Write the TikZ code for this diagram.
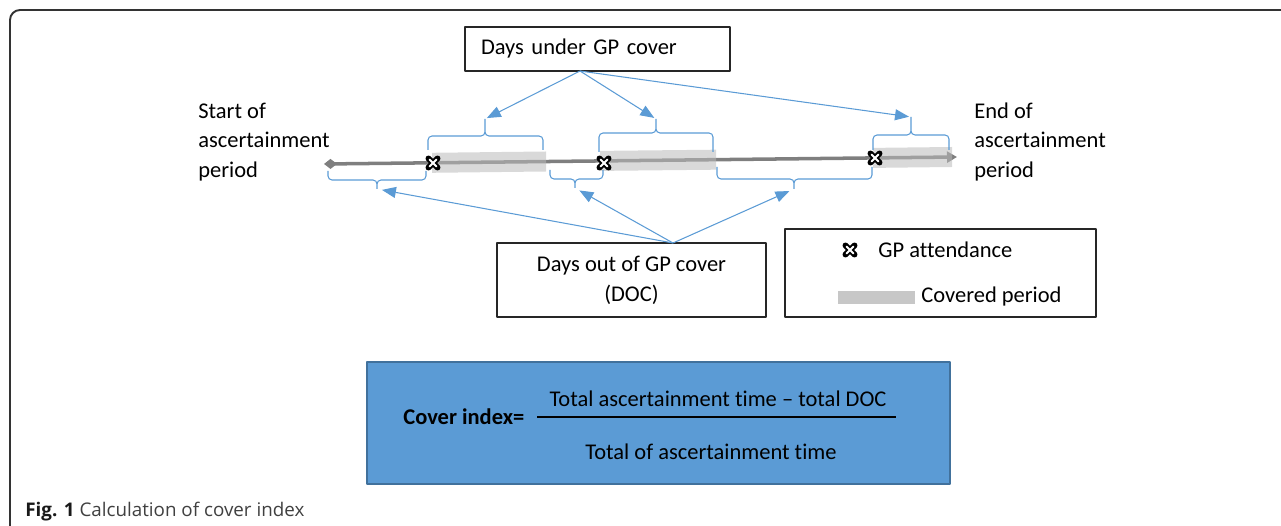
\documentclass[tikz,border=0pt]{standalone}
\usepackage{fontspec}
\setmainfont{Carlito}[Ligatures=NoCommon]
\newfontfamily\capfont{Open Sans}
\usetikzlibrary{arrows.meta}
\definecolor{officeblue}{HTML}{5B9BD5}
\definecolor{officeborder}{HTML}{41719C}
\definecolor{bandgray}{RGB}{186,186,186}
\definecolor{linegray}{HTML}{7F7F7F}
\tikzset{
	box/.style={draw=black!85, line width=0.7pt, inner sep=0pt},
	link/.style={officeblue, line width=0.6pt, -{Triangle[length=0.28cm,width=0.22cm]}},
	curly/.style={officeblue, line width=0.6pt, rounded corners=0.08cm},
	band/.style={fill=bandgray, fill opacity=0.55},
	gpcross/.style={black, line width=3.4pt, line cap=round},
	timeline/.style={linegray, line width=2pt, {Diamond[length=0.26cm,width=0.2cm]}-{Triangle[length=0.2cm,width=0.22cm]}}
}
\begin{document}
\begin{tikzpicture}[x=0.02cm, y=-0.02cm, font=\fontsize{12.8}{17}\selectfont, line join=round]
			\useasboundingbox (0,0) rectangle (1281,526);
			\draw[line width=1.1pt, black!80, rounded corners=0.2cm] (10,530) -- (10,10) -- (1290,10);
			%\draw[color=gray!50,dashed] (0,0) grid[step=50] (1281,526);
			% time line
			\coordinate (tstart) at (324,164);
			\coordinate (tend) at (957,157);
			\draw[timeline] (tstart) -- (tend);
			\foreach \a/\b/\ya/\yb in {432/546/162.8/161.5, 600/716/160.9/159.7, 873/952/157.9/157.0}
			\fill[band] (\a,\ya-10) -- (\b,\yb-10) -- (\b,\yb+10) -- (\a,\ya+10) -- cycle;
			\foreach \x/\y in {433/163, 604/163, 875/158, 850/250}{
				\draw[gpcross] (\x-4.5,\y-4.5) -- (\x+4.5,\y+4.5) (\x-4.5,\y+4.5) -- (\x+4.5,\y-4.5);
				\draw[gpcross, white, line width=1.1pt] (\x-3.5,\y-3.5) -- (\x+3.5,\y+3.5) (\x-3.5,\y+3.5) -- (\x+3.5,\y-3.5);
			}
			% braces
			\foreach \a/\b/\m/\e/\h/\t [count=\i] in {428/543/485/150/136/119, 599/713/656/152/133/119, 873/949/911/150/135/117}{
				\draw[curly] (\a,\e) -- (\a,\h) -- (\m,\h) -- (\m,\t) (\b,\e) -- (\b,\h) -- (\m,\h) -- (\m,\t);
				\coordinate (up\i) at (\m,\t);
			}
			\foreach \a/\b/\m/\e/\h/\t [count=\i] in {328/426/377/171/180/189, 550/603/575/170/179/188, 717/872/794/167/179/189}{
				\draw[curly] (\a,\e) -- (\a,\h) -- (\m,\h) -- (\m,\t) (\b,\e) -- (\b,\h) -- (\m,\h) -- (\m,\t);
				\coordinate (down\i) at (\m,\t);
			}
			% labels and boxes
			\node[anchor=west, align=left, inner sep=0] (startlbl) at (198,142) {Start of\\ascertainment\\period};
			\node[anchor=west, align=left, inner sep=0] (endlbl) at (974,142) {End of\\ascertainment\\period};
			\node[box, minimum width=5.3cm, minimum height=0.88cm, text width=4.66cm, inner xsep=0.32cm, align=left] (under) at (597.5,49) {Days under GP cover};
			\node[box, minimum width=5.38cm, minimum height=1.48cm, align=center] (doc) at (631.5,280) {Days out of GP cover\\(DOC)};
			\coordinate (undersrc) at (580,71);
			\coordinate (docsrc) at (673,243);
			\foreach \i in {1,2,3}
			\draw[link, shorten >=0.04cm] (undersrc) -- (up\i);
			\foreach \i in {1,2,3}
			\draw[link, shorten >=0.1cm] (docsrc) -- (down\i);
			% legend
			\node[box, minimum width=6.22cm, minimum height=1.76cm] (legend) at (940.5,273) {};
			\node[anchor=west, inner sep=0] (attlbl) at (878,250) {GP attendance};
			\fill[black!22] (838,291) rectangle (915,304);
			\node[anchor=west, inner sep=0] (covlbl) at (921,297) {Covered period};
			% cover index
			\node[draw=officeborder, fill=officeblue, line width=1pt, minimum width=11.66cm, minimum height=2.44cm] (formula) at (658.5,423) {};
			\node[anchor=west, inner sep=0, font=\fontsize{12.8}{17}\selectfont\bfseries] (cilbl) at (403,417) {Cover index=};
			\coordinate (fracl) at (537,417);
			\coordinate (fracr) at (896,417);
			\draw[line width=1.1pt] (fracl) -- (fracr);
			\node[inner sep=0] (num) at (718,399) {Total ascertainment time – total DOC};
			\node[inner sep=0] (den) at (711,452) {Total of ascertainment time};
			\node[anchor=base west, inner sep=0, font=\capfont\fontsize{10.7}{13}\selectfont, text=black!75] (cap) at (25,517) {\textbf{\color{black!90}Fig. 1} Calculation of cover index};
		\end{tikzpicture}
\end{document}
